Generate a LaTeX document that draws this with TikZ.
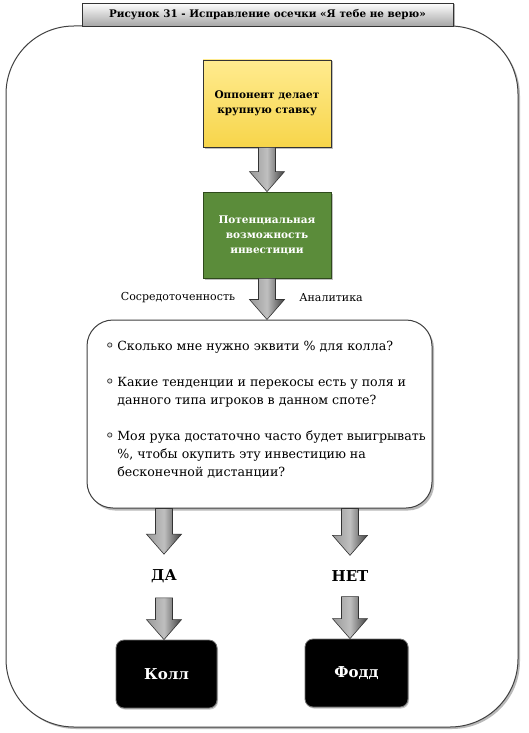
\documentclass[tikz,border=0pt]{standalone}
\usepackage{fontspec}
\setmainfont{DejaVu Serif}
\usetikzlibrary{calc,shadows}
\definecolor{ylwtop}{HTML}{FFEB8F}
\definecolor{ylwbot}{HTML}{F7D54A}
\definecolor{grn}{HTML}{5B8C3A}
\definecolor{grndark}{HTML}{2F4A1C}
\newcommand\qbullet{\raisebox{0.5ex}{\tikz\draw[black!80, line width=0.7pt, fill=black!10] (0,0) circle (2.2pt);}}
\tikzset{
  frame/.style={draw=black!75, line width=1pt, fill=white, rounded corners=68pt,
    drop shadow={shadow xshift=2pt, shadow yshift=-2pt, fill=black!55}},
  titlebox/.style={draw=black!80, line width=0.8pt, top color=white, bottom color=black!35,
    minimum width=371pt, minimum height=23pt, inner sep=0pt,
    font=\fontsize{10.4}{12}\selectfont\bfseries,
    drop shadow={shadow xshift=1.5pt, shadow yshift=-1.5pt, fill=black!60}},
  yellowbox/.style={draw=black!80, line width=0.8pt, top color=ylwtop, bottom color=ylwbot,
    minimum width=128pt, minimum height=87pt, align=center, inner sep=2pt,
    font=\fontsize{10.5}{15}\selectfont\bfseries,
    drop shadow={shadow xshift=1.5pt, shadow yshift=-1.5pt, fill=black!50}},
  greenbox/.style={draw=grndark, line width=0.8pt, fill=grn, text=white,
    minimum width=128pt, minimum height=86pt, align=center, inner sep=2pt,
    font=\fontsize{10.5}{15}\selectfont\bfseries,
    drop shadow={shadow xshift=1.5pt, shadow yshift=-1.5pt, fill=black!50}},
  qbox/.style={draw=black!75, line width=1pt, fill=white, rounded corners=26pt,
    minimum width=345pt, minimum height=188pt,
    drop shadow={shadow xshift=2pt, shadow yshift=-2.5pt, fill=black!55}},
  qtext/.style={inner sep=0pt, font=\fontsize{12.6}{18}\selectfont, align=left},
  sidelabel/.style={inner sep=1pt, font=\fontsize{11}{12}\selectfont},
  answer/.style={inner sep=0pt, font=\fontsize{15}{17}\selectfont\bfseries},
  blackbox/.style={draw=black!55, line width=0.8pt, fill=black, text=white, rounded corners=8pt,
    minimum height=68pt, font=\fontsize{15}{17}\selectfont\bfseries,
    drop shadow={shadow xshift=1pt, shadow yshift=-1.5pt, fill=black!45}},
  blockarrow/.style={draw=black!80, line width=0.6pt, left color=black!40, right color=black!75, middle color=black!25}
}
\newcommand\blockarr[2]{%
  \path let \p1=(#1), \p2=(#2) in
    [blockarrow] (\x1-8.5pt,\y1) -- (\x1+8.5pt,\y1) -- (\x1+8.5pt,\y2+20pt) -- (\x1+17.5pt,\y2+20pt)
    -- (\x1,\y2) -- (\x1-17.5pt,\y2+20pt) -- (\x1-8.5pt,\y2+20pt) -- cycle;}
\begin{document}
\begin{tikzpicture}[x=1pt,y=-1pt]
\useasboundingbox (0,0) rectangle (529,733);
% outer frame
\path[frame] (6,26) rectangle (518,727);
% title
\node[titlebox] (title) at (267.5,14.5) {Рисунок 31 - Исправление осечки «Я тебе не верю»};
% boxes
\node[yellowbox] (bet) at (267,103.5) {Оппонент делает\\ крупную ставку};
\node[greenbox] (inv) at (267,235) {Потенциальная\\ возможность\\ инвестиции};
\node[qbox] (q) at (259.5,414) {};
\node[qtext, anchor=north west] (qs) at (107,338) {%
\begin{tabular}{@{}l@{\hspace{5pt}}l@{}}
\qbullet & Сколько мне нужно эквити \% для колла?\\[18pt]
\qbullet & Какие тенденции и перекосы есть у поля и\\
 & данного типа игроков в данном споте?\\[18pt]
\qbullet & Моя рука достаточно часто будет выигрывать\\
 & \%, чтобы окупить эту инвестицию на\\
 & бесконечной дистанции?
\end{tabular}};
\node[sidelabel] (conc) at (178,298) {Сосредоточенность};
\node[sidelabel] (anal) at (331,298) {Аналитика};
\node[answer] (da) at (164,576) {ДА};
\node[answer] (net) at (350,576) {НЕТ};
\node[blackbox, minimum width=101pt] (call) at (166.5,674) {Колл};
\node[blackbox, minimum width=103pt] (fold) at (356.5,673) {Фодд};
% arrows
\blockarr{bet.south}{inv.north}
\blockarr{inv.south}{q.north}
\coordinate (aL) at (q.south -| da);
\coordinate (aR) at (q.south -| net);
\coordinate (tL) at ($(da.north)+(0,-15)$);
\coordinate (tR) at ($(net.north)+(0,-15)$);
\blockarr{aL}{tL}
\blockarr{aR}{tR}
\coordinate (bL) at ($(da.south)+(0,15)$);
\coordinate (bR) at ($(net.south)+(0,15)$);
\blockarr{bL}{call.north -| da}
\blockarr{bR}{fold.north -| net}
\end{tikzpicture}
\end{document}
